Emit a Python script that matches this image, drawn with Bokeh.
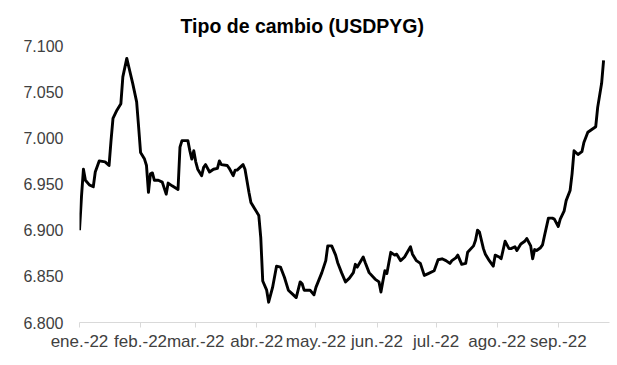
import pandas as pd
from bokeh.plotting import figure
from bokeh.models import FixedTicker, NumeralTickFormatter, Range1d
from bokeh.embed import file_html
from bokeh.resources import INLINE

dates = [
    "2022-01-03", "2022-01-04", "2022-01-05", "2022-01-06", "2022-01-08", "2022-01-10",
    "2022-01-11", "2022-01-13", "2022-01-16", "2022-01-18", "2022-01-19", "2022-01-20",
    "2022-01-22", "2022-01-24", "2022-01-25", "2022-01-27", "2022-01-28", "2022-01-30",
    "2022-02-01", "2022-02-02", "2022-02-03", "2022-02-05", "2022-02-06", "2022-02-07",
    "2022-02-08", "2022-02-09", "2022-02-10", "2022-02-12", "2022-02-14", "2022-02-16",
    "2022-02-17", "2022-02-19", "2022-02-22", "2022-02-23", "2022-02-24", "2022-02-27",
    "2022-02-28", "2022-03-01", "2022-03-02", "2022-03-03", "2022-03-04", "2022-03-06",
    "2022-03-07", "2022-03-08", "2022-03-10", "2022-03-12", "2022-03-14", "2022-03-15",
    "2022-03-16", "2022-03-19", "2022-03-20", "2022-03-22", "2022-03-23", "2022-03-24",
    "2022-03-27", "2022-03-28", "2022-03-30", "2022-03-31", "2022-04-02", "2022-04-04",
    "2022-04-05", "2022-04-06", "2022-04-08", "2022-04-09", "2022-04-11", "2022-04-13",
    "2022-04-15", "2022-04-17", "2022-04-19", "2022-04-21", "2022-04-23", "2022-04-25",
    "2022-04-26", "2022-04-27", "2022-04-30", "2022-05-02", "2022-05-03", "2022-05-06",
    "2022-05-08", "2022-05-09", "2022-05-11", "2022-05-13", "2022-05-14", "2022-05-16",
    "2022-05-18", "2022-05-20", "2022-05-22", "2022-05-23", "2022-05-24", "2022-05-27",
    "2022-05-28", "2022-05-30", "2022-06-02", "2022-06-04", "2022-06-05", "2022-06-06",
    "2022-06-07", "2022-06-08", "2022-06-10", "2022-06-12", "2022-06-13", "2022-06-15",
    "2022-06-17", "2022-06-20", "2022-06-21", "2022-06-23", "2022-06-25", "2022-06-27",
    "2022-06-29", "2022-07-02", "2022-07-04", "2022-07-06", "2022-07-08", "2022-07-10",
    "2022-07-11", "2022-07-13", "2022-07-14", "2022-07-16", "2022-07-18", "2022-07-19",
    "2022-07-22", "2022-07-23", "2022-07-24", "2022-07-25", "2022-07-27", "2022-07-28",
    "2022-07-30", "2022-08-01", "2022-08-02", "2022-08-04", "2022-08-05", "2022-08-07",
    "2022-08-09", "2022-08-10", "2022-08-12", "2022-08-13", "2022-08-15", "2022-08-17",
    "2022-08-18", "2022-08-20", "2022-08-21", "2022-08-22", "2022-08-23", "2022-08-25",
    "2022-08-26", "2022-08-27", "2022-08-29", "2022-08-31", "2022-09-01", "2022-09-03",
    "2022-09-04", "2022-09-06", "2022-09-07", "2022-09-09", "2022-09-10", "2022-09-11",
    "2022-09-13", "2022-09-15", "2022-09-16", "2022-09-18", "2022-09-20", "2022-09-22",
    "2022-09-23", "2022-09-25", "2022-09-26",
]

usdpyg = [
    6.900, 6.936, 6.966, 6.954, 6.949, 6.947,
    6.963, 6.975, 6.974, 6.970, 6.997, 7.021,
    7.030, 7.037, 7.066, 7.086, 7.077, 7.059,
    7.039, 7.012, 6.984, 6.977, 6.970, 6.941,
    6.961, 6.962, 6.954, 6.954, 6.952, 6.939,
    6.951, 6.948, 6.944, 6.990, 6.997, 6.997,
    6.986, 6.977, 6.986, 6.974, 6.966, 6.959,
    6.968, 6.971, 6.963, 6.966, 6.967, 6.975,
    6.971, 6.970, 6.967, 6.959, 6.965, 6.965,
    6.971, 6.966, 6.941, 6.930, 6.923, 6.916,
    6.892, 6.845, 6.835, 6.822, 6.838, 6.861,
    6.860, 6.849, 6.835, 6.831, 6.827, 6.844,
    6.842, 6.835, 6.835, 6.830, 6.838, 6.854,
    6.867, 6.883, 6.883, 6.873, 6.865, 6.854,
    6.844, 6.848, 6.854, 6.863, 6.860, 6.871,
    6.865, 6.854, 6.847, 6.844, 6.833, 6.845,
    6.856, 6.853, 6.876, 6.873, 6.874, 6.867,
    6.871, 6.882, 6.874, 6.867, 6.864, 6.851,
    6.853, 6.856, 6.868, 6.869, 6.867, 6.864,
    6.867, 6.870, 6.873, 6.863, 6.864, 6.876,
    6.883, 6.889, 6.900, 6.898, 6.880, 6.874,
    6.867, 6.861, 6.873, 6.871, 6.869, 6.888,
    6.880, 6.880, 6.882, 6.878, 6.885, 6.888,
    6.891, 6.883, 6.869, 6.879, 6.878, 6.881,
    6.884, 6.894, 6.913, 6.913, 6.912, 6.904,
    6.912, 6.921, 6.932, 6.943, 6.961, 6.986,
    6.982, 6.985, 6.995, 7.006, 7.009, 7.012,
    7.033, 7.059, 7.084,
]

tick_dates = ["2022-01-03", "2022-02-03", "2022-03-03", "2022-04-03", "2022-05-03",
              "2022-06-03", "2022-07-03", "2022-08-03", "2022-09-03"]
tick_labels = ["ene.-22", "feb.-22", "mar.-22", "abr.-22", "may.-22",
               "jun.-22", "jul.-22", "ago.-22", "sep.-22"]
y_ticks = [6.800, 6.850, 6.900, 6.950, 7.000, 7.050, 7.100]

x = pd.to_datetime(dates)
x_start = pd.Timestamp("2022-01-03")
x_end = pd.Timestamp("2022-09-29")

def ms(ts):
    return float(pd.Timestamp(ts).value // 10**6)

p = figure(width=612, height=357, x_axis_type="datetime",
           output_backend="svg", toolbar_location=None,
           x_range=Range1d(ms(x_start), ms(x_end)),
           y_range=Range1d(6.8, 7.1),
           min_border_left=79, min_border_right=3,
           min_border_top=45, min_border_bottom=35)

p.line(x, usdpyg, line_color="black", line_width=2.9, line_join="round")

p.title.text = "Tipo de cambio (USDPYG)"
p.title.text_font = "Liberation Sans"
p.title.text_font_size = "19.5px"
p.title.text_font_style = "bold"
p.title.text_color = "#000000"
p.title.align = "left"
p.title.offset = 101
p.title.vertical_align = "top"
p.title.standoff = 14

p.outline_line_color = None
p.xgrid.visible = False
p.ygrid.visible = False
p.background_fill_color = "white"
p.border_fill_color = "white"

tick_ms = [ms(t) for t in tick_dates]
p.xaxis.ticker = FixedTicker(ticks=tick_ms)
p.xaxis.major_label_overrides = {t: lab for t, lab in zip(tick_ms, tick_labels)}
p.xaxis.axis_line_color = "#d9d9d9"
p.xaxis.major_tick_line_color = "#d9d9d9"
p.xaxis.major_tick_out = 5
p.xaxis.major_tick_in = 0
p.xaxis.minor_tick_line_color = None
p.xaxis.major_label_standoff = 4
p.xaxis.major_label_text_font = "Liberation Sans"
p.xaxis.major_label_text_font_size = "17px"
p.xaxis.major_label_text_color = "#404040"

p.yaxis.ticker = FixedTicker(ticks=y_ticks)
p.yaxis.formatter = NumeralTickFormatter(format="0.000")
p.yaxis.axis_line_color = None
p.yaxis.major_tick_line_color = None
p.yaxis.minor_tick_line_color = None
p.yaxis.major_tick_out = 0
p.yaxis.major_tick_in = 0
p.yaxis.major_label_standoff = 16
p.yaxis.major_label_text_font = "Liberation Sans"
p.yaxis.major_label_text_font_size = "16px"
p.yaxis.major_label_text_color = "#404040"

open("out.html", "w").write(file_html(p, INLINE))
